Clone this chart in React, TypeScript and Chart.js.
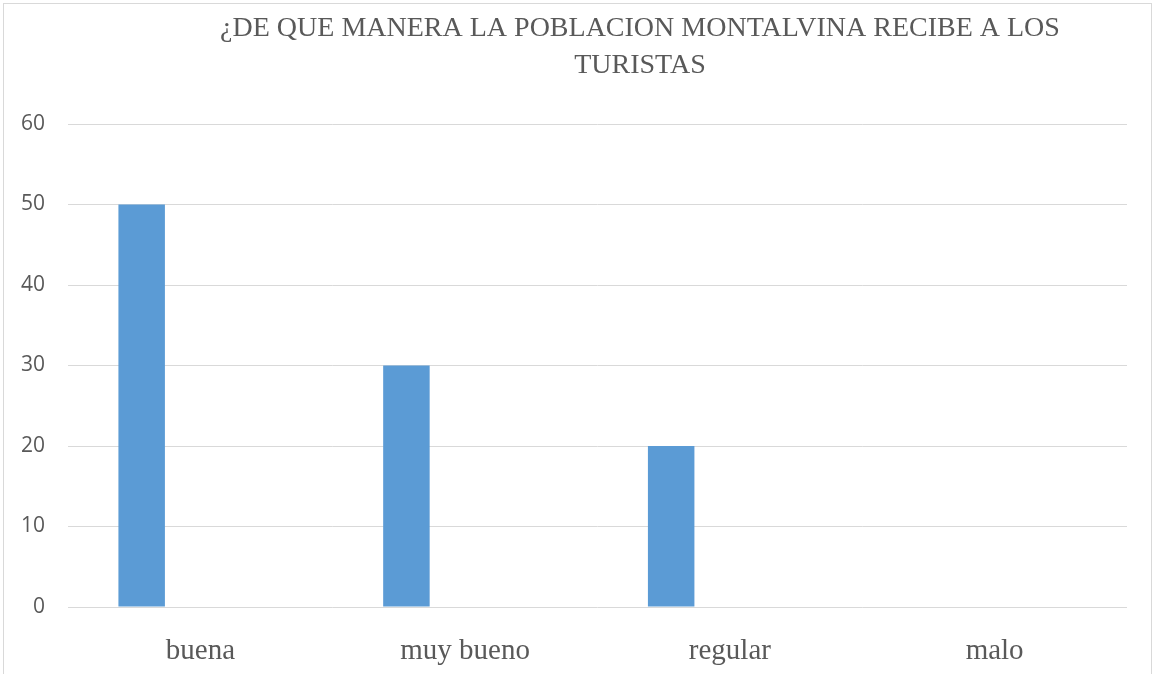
import React, { useEffect, useRef } from "react";
import { Chart, registerables } from "chart.js";

Chart.register(...registerables);

const titleLines = ["¿DE QUE MANERA LA POBLACION MONTALVINA RECIBE A LOS", "TURISTAS"];
const categories = ["buena", "muy bueno", "regular", "malo"];
const seriesValues = [50, 30, 20, 0];
const emptySeries = [null, null, null, null];
const yTicks = [0, 10, 20, 30, 40, 50, 60];

const framePlugin = {
  id: "frame",
  beforeDraw(chart: any) {
    const ctx = chart.ctx;
    ctx.save();
    ctx.fillStyle = "#ffffff";
    ctx.fillRect(0, 0, chart.width, chart.height);
    ctx.strokeStyle = "#d9d9d9";
    ctx.lineWidth = 1;
    ctx.strokeRect(3.5, 3.5, 1148, 720);
    ctx.restore();
  },
  afterLayout(chart: any) {
    const t = chart.titleBlock;
    if (t) {
      t.left = 124;
      t.right = 1156;
    }
  },
};

export default function App() {
  const ref = useRef<HTMLCanvasElement | null>(null);
  useEffect(() => {
    if (!ref.current) return;
    const chart = new Chart(ref.current, {
      type: "bar",
      data: {
        labels: categories,
        datasets: [
          {
            label: "Serie 1",
            data: seriesValues,
            backgroundColor: "#5B9BD5",
            borderWidth: 0,
            categoryPercentage: 0.887,
            barPercentage: 0.396,
          },
          {
            label: "Serie 2",
            data: emptySeries as any,
            backgroundColor: "#ED7D31",
            borderWidth: 0,
            categoryPercentage: 0.887,
            barPercentage: 0.396,
          },
        ],
      },
      options: {
        animation: false,
        responsive: false,
        layout: { padding: { left: 0, top: 0, bottom: 0, right: 29 } },
        plugins: {
          legend: { display: false },
          tooltip: { enabled: false },
          title: {
            display: true,
            text: titleLines,
            color: "#595959",
            font: { family: "'Liberation Serif', 'Times New Roman', serif", size: 28, weight: "normal", lineHeight: 1.311 },
            padding: { top: 10.5, bottom: 40.1 },
          },
        },
        scales: {
          x: {
            grid: { display: false },
            border: { display: false },
            ticks: {
              color: "#595959",
              padding: 19,
              font: { family: "'Liberation Serif', 'Times New Roman', serif", size: 29 },
            },
            afterFit(scale: any) {
              scale.height = 67;
            },
          },
          y: {
            min: 0,
            max: 60,
            afterBuildTicks(scale: any) {
              scale.ticks = yTicks.map((v) => ({ value: v }));
            },
            grid: { color: "#d9d9d9", lineWidth: 1, drawTicks: false },
            border: { display: false },
            ticks: {
              color: "#595959",
              padding: 23,
              font: { family: "'Open Sans', sans-serif", size: 21 },
            },
            afterFit(scale: any) {
              scale.width = 68;
            },
          },
        },
      },
      plugins: [framePlugin],
    });
    return () => chart.destroy();
  }, []);
  return (
    <div style={{ position: "fixed", left: 0, top: 0, width: 1156, height: 674, background: "#fff" }}>
      <canvas ref={ref} width={1156} height={674} style={{ display: "block" }} />
    </div>
  );
}
